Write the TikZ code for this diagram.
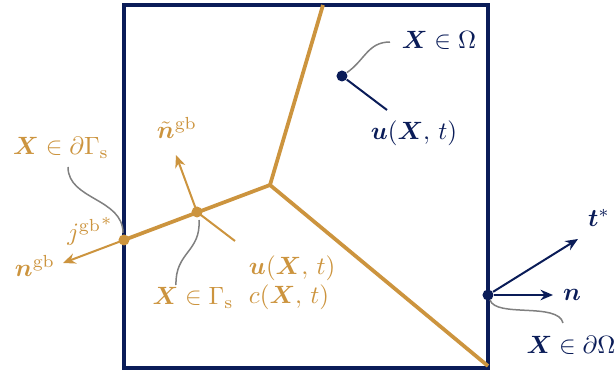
\documentclass[tikz,border=0pt]{standalone}
\usepackage{amsmath,bm}
\usetikzlibrary{arrows.meta}
\definecolor{navy}{RGB}{10,28,88}
\definecolor{gold}{RGB}{204,148,62}
\tikzset{
  boxline/.style={navy,line width=1.6pt},
  gbline/.style={gold,line width=1.5pt},
  goldarrow/.style={gold,line width=0.8pt,-{Stealth[length=5pt,width=4.2pt]}},
  navyarrow/.style={navy,line width=0.8pt,-{Stealth[length=5pt,width=4.2pt]}},
  leader/.style={gray,line width=0.6pt},
  golddot/.style={circle,fill=gold,inner sep=0pt,minimum size=4.4pt},
  navydot/.style={circle,fill=navy,inner sep=0pt,minimum size=4.4pt},
  goldlbl/.style={text=gold,inner sep=1pt},
  navylbl/.style={text=navy,inner sep=1pt}
}
\begin{document}
\begin{tikzpicture}[x=0.4pt,y=-0.4pt]
\useasboundingbox (0,0) rectangle (616,373);
% box
\draw[boxline] (124,5) rectangle (488,368);
% grain boundaries
\coordinate (top) at (323,5);
\coordinate (junc) at (270,185);
\coordinate (corner) at (488,366);
\coordinate (lp) at (124,240);
\coordinate (mp) at (197,212);
\draw[gbline] (top) -- (junc) -- (corner);
\draw[gbline] (junc) -- (lp);
% left boundary point
\coordinate (ngbtip) at (63,263);
\draw[goldarrow] (lp) -- (ngbtip);
\node[goldlbl] (ngb) at (35,266) {$\bm{n}^{\mathrm{gb}}$};
\node[goldlbl] (jgb) at (90,231) {${j^{\mathrm{gb}}}^{*}$};
\node[goldlbl] (dGs) at (61,148) {$\bm{X}\in\partial\Gamma_{\mathrm{s}}$};
\coordinate (dGsA) at (68,167);
\coordinate (lpA) at (123,233);
\draw[leader] (dGsA) .. controls (68,200) and (123,198) .. (lpA);
% middle point
\coordinate (ntip) at (176,155);
\draw[goldarrow] (mp) -- (ntip);
\node[goldlbl] (nt) at (177,128) {$\tilde{\bm{n}}^{\mathrm{gb}}$};
\coordinate (uend) at (235,241);
\draw[gold,line width=0.8pt] (mp) -- (uend);
\node[goldlbl,anchor=west] (uc1) at (246,268) {$\bm{u}(\bm{X},\,t)$};
\node[goldlbl,anchor=west] (uc2) at (246,297) {$c(\bm{X},\,t)$};
\coordinate (mpA) at (199,220);
\coordinate (GsA) at (176,285);
\draw[leader] (mpA) .. controls (201,252) and (175,252) .. (GsA);
\node[goldlbl] (Gs) at (193,298) {$\bm{X}\in\Gamma_{\mathrm{s}}$};
\node[golddot] (lpd) at (lp) {};
\node[golddot] (mpd) at (mp) {};
% interior point
\node[navydot] (ip) at (342,76) {};
\coordinate (ipA) at (390,42);
\draw[leader] (ip) .. controls (365,60) and (368,42) .. (ipA);
\node[navylbl] (XO) at (439,40) {$\bm{X}\in\Omega$};
\coordinate (ipB) at (387,110);
\draw[navy,line width=0.8pt] (ip) -- (ipB);
\node[navylbl] (uX) at (414,133) {$\bm{u}(\bm{X},\,t)$};
% boundary point
\node[navydot] (bp) at (488,295) {};
\coordinate (nnt) at (553,295);
\coordinate (ttip) at (578,239);
\draw[navyarrow] (bp) -- (nnt);
\draw[navyarrow] (bp) -- (ttip);
\node[navylbl] (nlab) at (572,295) {$\bm{n}$};
\node[navylbl] (tlab) at (599,218) {$\bm{t}^{*}$};
\coordinate (bpA) at (490,300);
\coordinate (dOA) at (563,323);
\draw[leader] (bpA) .. controls (496,318) and (558,302) .. (dOA);
\node[navylbl] (dO) at (571,345) {$\bm{X}\in\partial\Omega$};
\end{tikzpicture}
\end{document}
